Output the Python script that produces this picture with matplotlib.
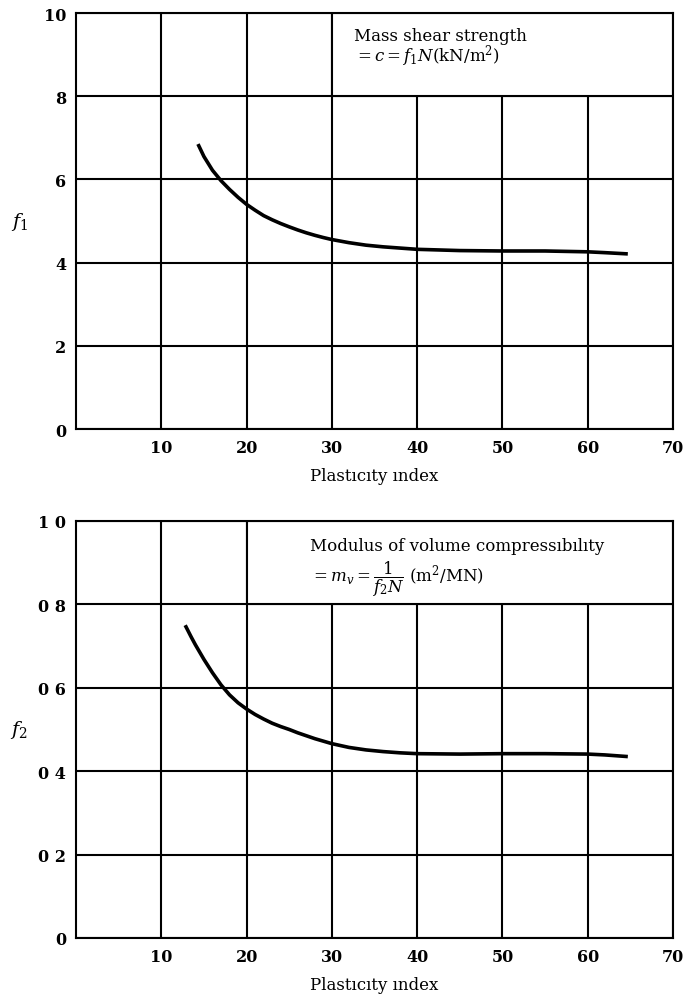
import matplotlib
matplotlib.use("Agg")
import matplotlib.pyplot as plt
from matplotlib.patches import Rectangle

plt.rcParams["font.family"] = ["DejaVu Serif"]
plt.rcParams["mathtext.fontset"] = "dejavuserif"

# Plasticity index vs. factor f1 (mass shear strength)
pi_f1 = [14.3, 15, 16, 17, 18, 19, 20, 21, 22, 23, 24, 25, 26, 27, 28, 29, 30,
         32, 34, 36, 38, 40, 45, 50, 55, 60, 62, 64.7]
f1 = [6.85, 6.55, 6.22, 5.97, 5.76, 5.57, 5.40, 5.26, 5.13, 5.03, 4.94, 4.86, 4.785,
      4.717, 4.657, 4.603, 4.555, 4.48, 4.42, 4.38, 4.35, 4.32, 4.29, 4.28, 4.28, 4.26,
      4.24, 4.21]

# Plasticity index vs. factor f2 (modulus of volume compressibility)
pi_f2 = [12.8, 13.5, 14, 15, 16, 17, 18, 19, 20, 21, 22, 23, 24, 25, 26, 27, 28, 29,
         30, 32, 34, 36, 38, 40, 45, 50, 55, 60, 62, 64.7]
f2 = [0.75, 0.722, 0.703, 0.668, 0.636, 0.607, 0.583, 0.564, 0.549, 0.536, 0.525,
      0.515, 0.507, 0.500, 0.492, 0.485, 0.478, 0.472, 0.466, 0.457, 0.451, 0.447,
      0.444, 0.442, 0.441, 0.442, 0.442, 0.441, 0.439, 0.435]

x_ticks = [10, 20, 30, 40, 50, 60, 70]
x_tick_labels = ["10", "20", "30", "40", "50", "60", "70"]
f1_ticks = [0, 2, 4, 6, 8, 10]
f1_tick_labels = ["0", "2", "4", "6", "8", "10"]
f2_ticks = [0, 0.2, 0.4, 0.6, 0.8, 1.0]
f2_tick_labels = ["0", "0 2", "0 4", "0 6", "0 8", "1 0"]

x_label = "Plastıcıty ındex"
f1_note = ["Mass shear strength", r"$= c = f_1N$(kN/m$^2$)"]
f2_note = ["Modulus of volume compressıbılıty", r"$= m_v = \dfrac{1}{f_2N}$ (m$^2$/MN)"]

LW = 1.5

fig = plt.figure(figsize=(6.83, 9.95), dpi=100)
ax1 = fig.add_axes([0.1113, 0.5678, 0.8741, 0.4181])
ax2 = fig.add_axes([0.1113, 0.0563, 0.8741, 0.4191])


def setup(ax, y_ticks, y_labels, ymax, box, note, note_xy, gap, ylab):
    ax.set_xlim(0, 70)
    ax.set_ylim(0, ymax)
    ax.set_xticks(x_ticks)
    ax.set_xticklabels(x_tick_labels)
    ax.set_yticks(y_ticks)
    ax.set_yticklabels(y_labels)
    ax.tick_params(length=0, labelsize=11.5, pad=7)
    for lab in ax.get_xticklabels() + ax.get_yticklabels():
        lab.set_fontweight("bold")
    for s in ax.spines.values():
        s.set_linewidth(LW)
        s.set_color("black")
    ax.set_axisbelow(True)
    ax.grid(True, color="black", linewidth=LW)
    x0, y0 = box
    ax.add_patch(Rectangle((x0, y0), 70 - x0, ymax - y0, facecolor="white",
                           edgecolor="black", linewidth=LW, zorder=1))
    tx, ty = note_xy
    ax.text(tx, ty, note[0], fontsize=12, va="top", ha="left", zorder=4)
    ax.text(tx, ty - gap * ymax, note[1], fontsize=12, va="center", ha="left", zorder=4)
    ax.set_xlabel(x_label, fontsize=12, labelpad=8)
    ax.set_ylabel(ylab, fontsize=14, rotation=0, va="center", ha="center")
    ax.yaxis.set_label_coords(-0.095, 0.5)


setup(ax1, f1_ticks, f1_tick_labels, 10, (30, 8), f1_note, (32.6, 9.66), 0.068, r"$f_1$")
setup(ax2, f2_ticks, f2_tick_labels, 1.0, (20, 0.8), f2_note, (27.4, 0.962), 0.1, r"$f_2$")

ax1.plot(pi_f1, f1, color="black", linewidth=2.6, solid_capstyle="butt",
         solid_joinstyle="round", zorder=3)
ax2.plot(pi_f2, f2, color="black", linewidth=2.6, solid_capstyle="butt",
         solid_joinstyle="round", zorder=3)

fig.savefig("out.png", dpi=100, facecolor="white")
